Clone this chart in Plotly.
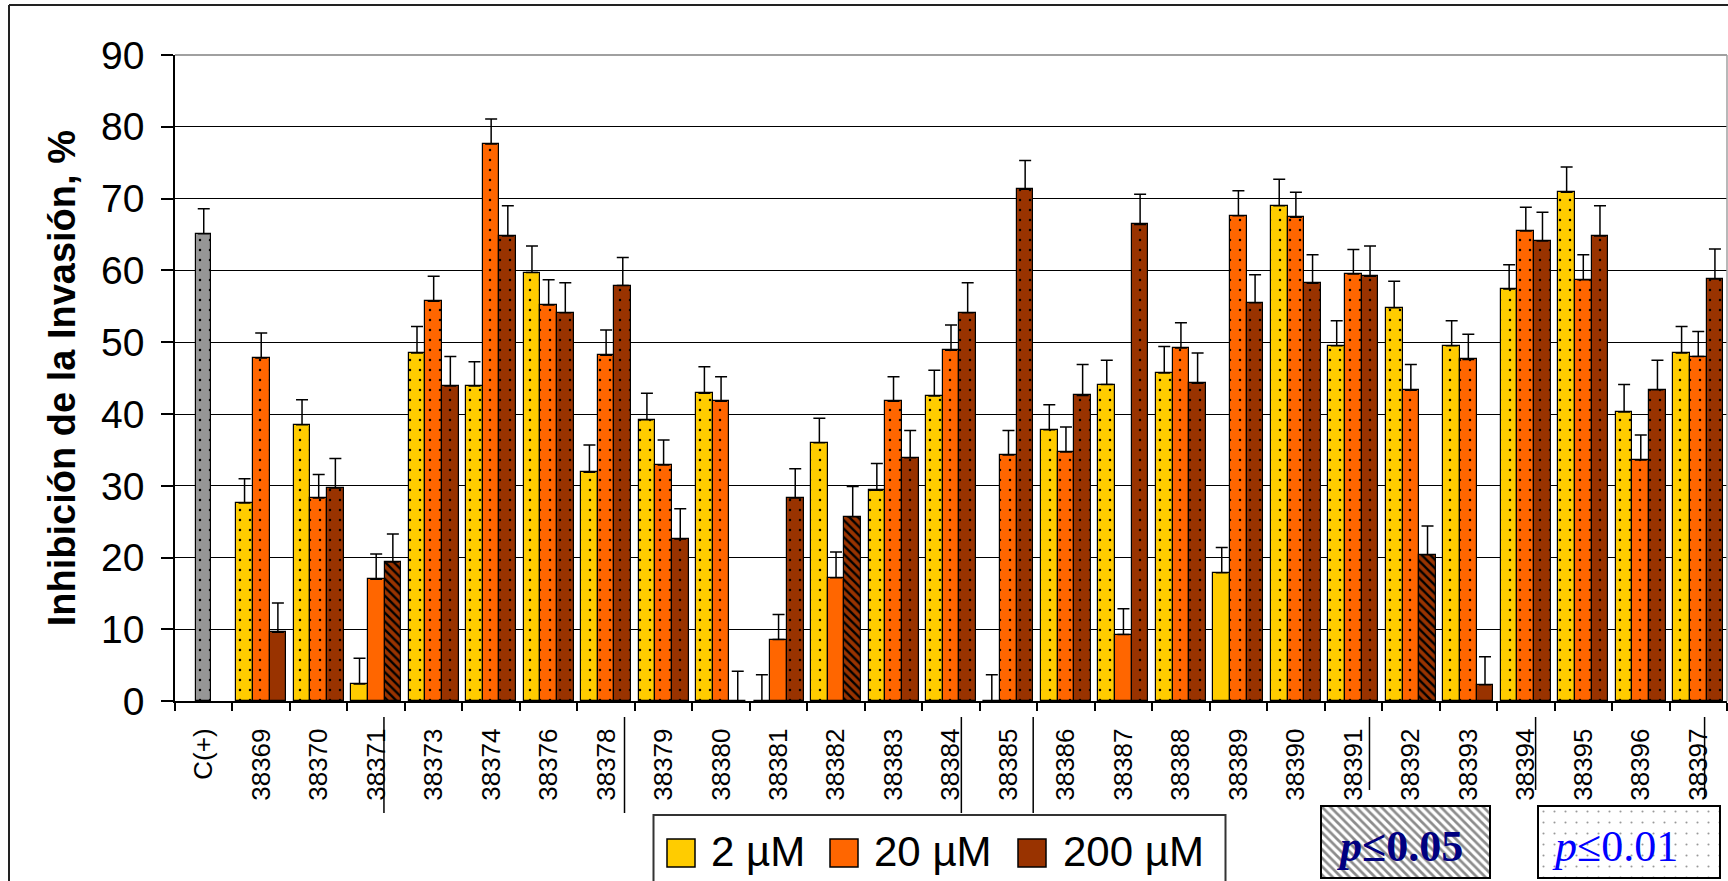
import plotly.graph_objects as go

# ---------------- data ----------------
categories = ["C(+)", "38369", "38370", "38371", "38373", "38374", "38376", "38378",
              "38379", "38380", "38381", "38382", "38383", "38384", "38385", "38386",
              "38387", "38388", "38389", "38390", "38391", "38392", "38393", "38394",
              "38395", "38396", "38397"]
compounds = categories[1:]

control_value = [65.1]
control_err = [3.5]

v2 = [27.6, 38.5, 2.4, 48.5, 43.9, 59.7, 31.9, 39.2, 42.9, 0.0, 36.0, 29.4, 42.5,
      0.0, 37.8, 44.1, 45.7, 17.9, 69.0, 49.5, 54.8, 49.5, 57.4, 70.9, 40.3, 48.5]
e2 = [3.4, 3.5, 3.6, 3.7, 3.4, 3.7, 3.8, 3.7, 3.7, 3.7, 3.4, 3.7, 3.6,
      3.7, 3.5, 3.4, 3.7, 3.5, 3.7, 3.5, 3.7, 3.5, 3.4, 3.5, 3.8, 3.7]

v20 = [47.8, 28.3, 17.0, 55.7, 77.6, 55.2, 48.2, 32.9, 41.8, 8.6, 17.2, 41.8, 48.9,
       34.3, 34.7, 9.3, 49.2, 67.6, 67.4, 59.5, 43.3, 47.6, 65.5, 58.7, 33.6, 48.0]
e20 = [3.5, 3.3, 3.5, 3.5, 3.5, 3.5, 3.5, 3.5, 3.4, 3.5, 3.6, 3.4, 3.5,
       3.4, 3.5, 3.6, 3.5, 3.5, 3.5, 3.4, 3.6, 3.5, 3.3, 3.5, 3.5, 3.5]

v200 = [9.6, 29.7, 19.4, 43.9, 64.8, 54.1, 57.9, 22.6, 0.0, 28.3, 25.7, 33.9, 54.1,
        71.3, 42.6, 66.4, 44.3, 55.5, 58.2, 59.2, 20.4, 2.3, 64.1, 64.8, 43.4, 58.8]
e200 = [4.1, 4.1, 3.9, 4.1, 4.2, 4.2, 3.9, 4.2, 4.2, 4.1, 4.2, 3.8, 4.2,
        4.0, 4.3, 4.2, 4.2, 3.9, 4.0, 4.2, 4.0, 3.9, 4.0, 4.2, 4.1, 4.2]

# significance per bar: "p01" (p<=0.01), "p05" (p<=0.05), "ns"
control_sig = ["p01"]
sig2 = ["p01", "p01", "ns", "p01", "p01", "p01", "p01", "p01", "p01", "ns", "p01", "p01", "p01",
        "ns", "p01", "p01", "p01", "ns", "p01", "p01", "p01", "p01", "p01", "p01", "p01", "p01"]
sig20 = ["p01", "p01", "ns", "p01", "p01", "p01", "p01", "p01", "p01", "ns", "ns", "p01", "p01",
         "p01", "p01", "ns", "p01", "p01", "p01", "p01", "p01", "p01", "p01", "p01", "p01", "p01"]
sig200 = ["ns", "p01", "p05", "p01", "p01", "p01", "p01", "p01", "ns", "p01", "p05", "p01", "p01",
          "p01", "p01", "p01", "p01", "p01", "p01", "p01", "p05", "ns", "p01", "p01", "p01", "p01"]

series_names = ["2 µM", "20 µM", "200 µM"]
underlined = ["38371", "38378", "38384", "38385", "38391", "38394", "38397"]

# ---------------- styles ----------------
FONT = "Liberation Sans, Arial, sans-serif"
SERIF = "Liberation Serif, Times New Roman, serif"
colors = ["#FFCC00", "#FF6600", "#993300"]
control_color = "#969696"
PAT = {"p01": ".", "p05": "\\", "ns": ""}
PAT_SIZE = {"p01": 10, "p05": 6, "ns": 8}
PAT_SOL = {"p01": 0.05, "p05": 0.4, "ns": 0.1}

W, H = 1728, 881
ML, MR, MT, MB = 175, 1, 55, 0
PW, PH = W - ML - MR, H - MT - MB
PLOT_BOTTOM_PX = 701.3


def px2x(px):
    return (px - ML) / PW


def px2y(py):
    return (H - MB - py) / PH


def pattern(sig, col):
    return dict(shape=[PAT[s] for s in sig], size=[PAT_SIZE[s] for s in sig],
                solidity=[PAT_SOL[s] for s in sig], fgcolor="black", bgcolor=col,
                fillmode="replace")


def err(arr):
    return dict(type="data", array=arr, arrayminus=[0] * len(arr), symmetric=False,
                color="black", thickness=1.5, width=6)


fig = go.Figure()

fig.add_trace(go.Bar(
    x=categories[:1], y=control_value, width=0.26, offset=-0.13,
    marker=dict(color=control_color, line=dict(color="black", width=1.2),
                pattern=pattern(control_sig, control_color)),
    error_y=err(control_err), showlegend=False, name="C(+)"))

bw = 0.29
offsets = [-1.5 * bw, -0.5 * bw, 0.5 * bw]
for name, vals, errs, sig, col, off in zip(series_names, [v2, v20, v200], [e2, e20, e200],
                                           [sig2, sig20, sig200], colors, offsets):
    fig.add_trace(go.Bar(
        x=compounds, y=vals, width=bw, offset=off, name=name,
        marker=dict(color=col, line=dict(color="black", width=1.2),
                    pattern=pattern(sig, col)),
        error_y=err(errs), showlegend=False))

# significance key boxes (pattern-filled)
fig.add_trace(go.Bar(x=[0], y=[1], width=1, xaxis="x2", yaxis="y2", showlegend=False,
                     hoverinfo="skip",
                     marker=dict(color="white", line=dict(width=0),
                                 pattern=dict(shape="\\", fgcolor="#1a1a1a", bgcolor="white",
                                              size=6, solidity=0.45))))
fig.add_trace(go.Bar(x=[0], y=[1], width=1, xaxis="x3", yaxis="y3", showlegend=False,
                     hoverinfo="skip",
                     marker=dict(color="white", line=dict(width=0),
                                 pattern=dict(shape=".", fgcolor="#333333", bgcolor="white",
                                              size=11, solidity=0.03))))

box05 = (1321, 1490, 806, 878)
box01 = (1538, 1720, 806, 878)
text_cx = [1399, 1615]

shapes = []
annotations = []

# gray plot border on top and right
shapes.append(dict(type="line", xref="paper", yref="paper", x0=0, x1=1, y0=1, y1=1,
                   line=dict(color="#808080", width=1.5), layer="above"))
shapes.append(dict(type="line", xref="paper", yref="paper", x0=1, x1=1,
                   y0=px2y(PLOT_BOTTOM_PX), y1=1, line=dict(color="#A0A0A0", width=1.5)))
# outer chart border (left and top visible)
shapes.append(dict(type="line", xref="paper", yref="paper", x0=px2x(9), x1=px2x(W + 10),
                   y0=px2y(5), y1=px2y(5), line=dict(color="#222222", width=2)))
shapes.append(dict(type="line", xref="paper", yref="paper", x0=px2x(9), x1=px2x(9),
                   y0=px2y(5), y1=px2y(H + 10), line=dict(color="#222222", width=2)))

# underline marks on selected category labels
under_offsets = {"38371": 0.135, "38378": 0.32, "38384": 0.18, "38385": 0.43,
                 "38391": 0.28, "38394": 0.17, "38397": 0.11}
under_end = {"38371": 813, "38378": 813, "38384": 813, "38385": 813,
             "38391": 790, "38394": 790, "38397": 797}
for c in underlined:
    xi = categories.index(c) + under_offsets[c]
    shapes.append(dict(type="line", xref="x", yref="paper", x0=xi, x1=xi,
                       y0=px2y(717), y1=px2y(under_end[c]),
                       line=dict(color="black", width=1.5)))

# custom legend
shapes.append(dict(type="rect", xref="paper", yref="paper", x0=px2x(653.5), x1=px2x(1225.5),
                   y0=px2y(815), y1=px2y(H + 10), line=dict(color="#333333", width=2),
                   fillcolor="white", layer="below"))
leg_sq = [667, 830, 1018]
leg_tx = [709, 872, 1061]
for name, col, sx, tx in zip(series_names, colors, leg_sq, leg_tx):
    shapes.append(dict(type="rect", xref="paper", yref="paper", x0=px2x(sx), x1=px2x(sx + 28),
                       y0=px2y(867), y1=px2y(839), fillcolor=col,
                       line=dict(color="black", width=1.5)))
    annotations.append(dict(xref="paper", yref="paper", x=px2x(tx), y=px2y(851),
                            xanchor="left", yanchor="middle", text=name, showarrow=False,
                            font=dict(family=FONT, size=42, color="black")))

# significance key borders and text
for (x0, x1, y0, y1), cx, txt, col in [
        (box05, text_cx[0], "<b><i>p</i>≤0.05</b>", "#000080"),
        (box01, text_cx[1], "<i>p</i>≤0.01", "#0000FF")]:
    shapes.append(dict(type="rect", xref="paper", yref="paper", x0=px2x(x0), x1=px2x(x1),
                       y0=px2y(y1), y1=px2y(y0), line=dict(color="black", width=2),
                       layer="above"))
    annotations.append(dict(xref="paper", yref="paper", x=px2x(cx), y=px2y(846),
                            xanchor="center", yanchor="middle", text=txt, showarrow=False,
                            font=dict(family=SERIF, size=44, color=col)))

fig.update_layout(
    width=W, height=H,
    margin=dict(l=ML, r=MR, t=MT, b=MB, autoexpand=False),
    paper_bgcolor="white", plot_bgcolor="white",
    barmode="overlay", bargap=0,
    font=dict(family=FONT, color="black"),
    xaxis=dict(type="category", categoryorder="array", categoryarray=categories,
               range=[-0.5, len(categories) - 0.5], showgrid=False,
               showline=True, linecolor="black", linewidth=1.5,
               ticks="outside", ticklen=8, tickwidth=1.5, tickcolor="black",
               tickson="boundaries", tickangle=-90, ticklabelstandoff=15,
               tickfont=dict(family=FONT, size=26, color="black"), anchor="y"),
    yaxis=dict(domain=[px2y(PLOT_BOTTOM_PX), 1], range=[0, 90], dtick=10,
               showgrid=True, gridcolor="black", gridwidth=1.4, zeroline=False,
               showline=True, linecolor="black", linewidth=1.5,
               ticks="outside", ticklen=12, tickwidth=1.5, tickcolor="black",
               ticklabelstandoff=9,
               tickfont=dict(family=FONT, size=39, color="black"),
               title=dict(text="<b>Inhibición de la Invasión, %</b>", standoff=14,
                          font=dict(family=FONT, size=38, color="black")),
               anchor="x"),
    xaxis2=dict(domain=[px2x(box05[0]), px2x(box05[1])], range=[-0.5, 0.5], visible=False,
                anchor="y2", fixedrange=True),
    yaxis2=dict(domain=[px2y(box05[3]), px2y(box05[2])], range=[0, 1], visible=False,
                anchor="x2", fixedrange=True),
    xaxis3=dict(domain=[px2x(box01[0]), px2x(box01[1])], range=[-0.5, 0.5], visible=False,
                anchor="y3", fixedrange=True),
    yaxis3=dict(domain=[px2y(box01[3]), px2y(box01[2])], range=[0, 1], visible=False,
                anchor="x3", fixedrange=True),
    shapes=shapes, annotations=annotations,
)

fig.write_html("out.html")
